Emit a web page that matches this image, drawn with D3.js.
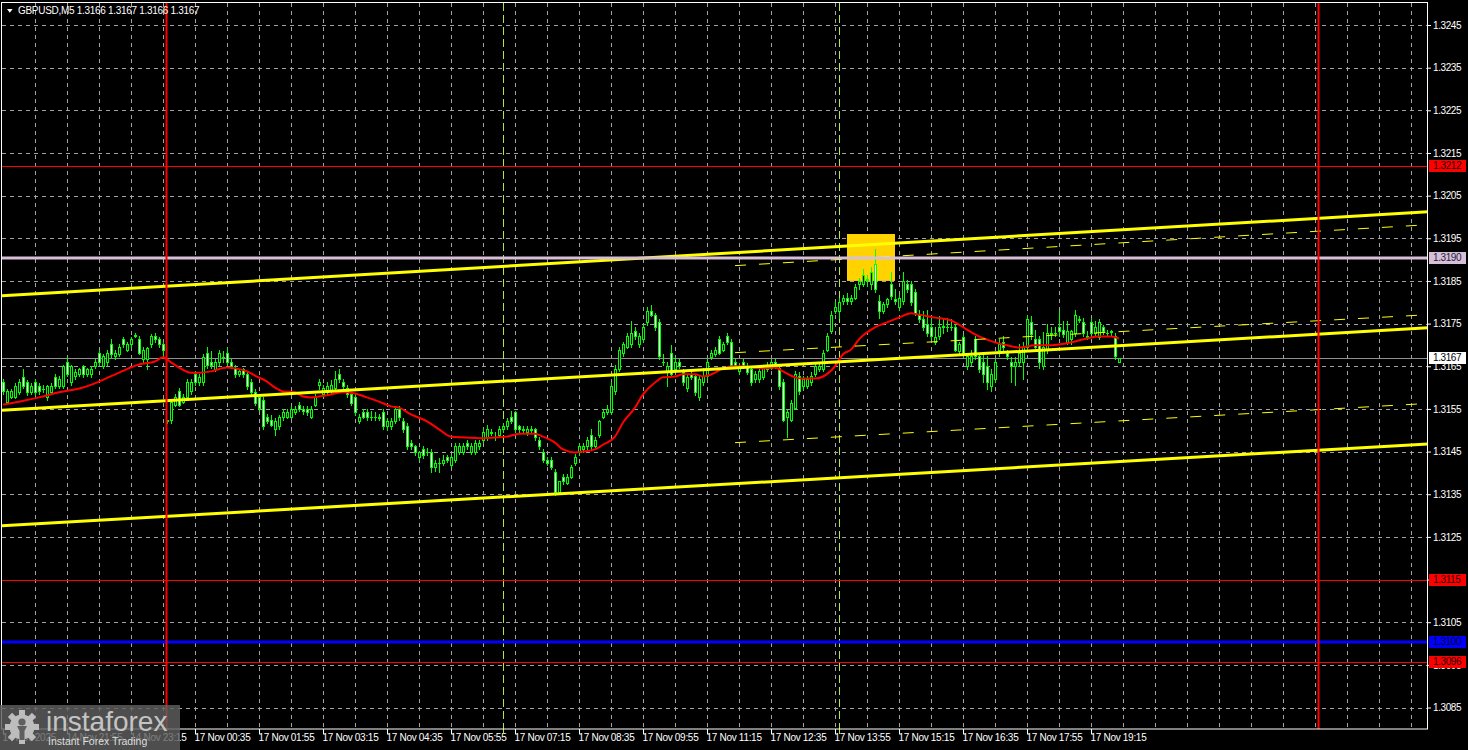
<!DOCTYPE html>
<html><head><meta charset="utf-8">
<script src="https://cdn.jsdelivr.net/npm/d3@7"></script>
<style>
html,body{margin:0;padding:0;background:#000;overflow:hidden}
svg{display:block}
</style></head><body>
<svg id="chart" width="1468" height="750"></svg>
<script>
// ---------------- DATA ----------------
const symbolTitle = "GBPUSD,M5  1.3166 1.3167 1.3166 1.3167";

const opens = [1.31612,1.31567,1.31579,1.31579,1.31589,1.31624,1.31612,1.31589,1.31612,1.31603,
1.31596,1.31579,1.31589,1.31624,1.31603,1.31603,1.31661,1.31612,1.31626,1.31631,
1.31650,1.31631,1.31631,1.31650,1.31682,1.31650,1.31659,1.31701,1.31673,1.31678,
1.31713,1.31689,1.31701,1.31722,1.31713,1.31666,1.31666,1.31701,1.31722,1.31713,
1.31701,1.31523,1.31525,1.31560,1.31591,1.31567,1.31579,1.31591,1.31631,1.31612,
1.31612,1.31682,1.31661,1.31643,1.31659,1.31671,1.31682,1.31659,1.31647,1.31631,
1.31643,1.31631,1.31612,1.31589,1.31577,1.31572,1.31530,1.31525,1.31502,1.31509,
1.31530,1.31532,1.31532,1.31542,1.31560,1.31549,1.31549,1.31532,1.31560,1.31607,
1.31584,1.31589,1.31591,1.31600,1.31631,1.31612,1.31600,1.31584,1.31579,1.31521,
1.31542,1.31542,1.31530,1.31532,1.31530,1.31542,1.31509,1.31509,1.31521,1.31549,
1.31521,1.31509,1.31471,1.31462,1.31438,1.31455,1.31450,1.31450,1.31413,1.31424,
1.31424,1.31438,1.31419,1.31431,1.31450,1.31450,1.31471,1.31450,1.31450,1.31462,
1.31478,1.31483,1.31495,1.31485,1.31490,1.31502,1.31509,1.31532,1.31542,1.31509,
1.31502,1.31495,1.31502,1.31502,1.31478,1.31450,1.31431,1.31431,1.31401,1.31356,
1.31391,1.31377,1.31391,1.31424,1.31448,1.31455,1.31462,1.31490,1.31462,1.31490,
1.31532,1.31542,1.31542,1.31591,1.31643,1.31682,1.31696,1.31701,1.31732,1.31701,
1.31713,1.31753,1.31779,1.31771,1.31753,1.31661,1.31638,1.31682,1.31643,1.31659,
1.31636,1.31600,1.31631,1.31626,1.31579,1.31612,1.31626,1.31671,1.31678,1.31713,
1.31689,1.31720,1.31708,1.31661,1.31638,1.31661,1.31650,1.31643,1.31619,1.31619,
1.31624,1.31643,1.31647,1.31661,1.31647,1.31612,1.31532,1.31525,1.31553,1.31626,
1.31603,1.31603,1.31612,1.31631,1.31643,1.31643,1.31689,1.31732,1.31779,1.31779,
1.31802,1.31811,1.31802,1.31811,1.31842,1.31842,1.31854,1.31842,1.31889,1.31802,
1.31779,1.31795,1.31842,1.31807,1.31790,1.31802,1.31842,1.31842,1.31823,1.31771,
1.31760,1.31748,1.31741,1.31708,1.31720,1.31743,1.31741,1.31743,1.31741,1.31685,
1.31718,1.31650,1.31661,1.31713,1.31673,1.31659,1.31650,1.31603,1.31619,1.31689,
1.31706,1.31682,1.31661,1.31650,1.31659,1.31659,1.31694,1.31753,1.31713,1.31713,
1.31650,1.31689,1.31725,1.31729,1.31741,1.31736,1.31708,1.31713,1.31729,1.31760,
1.31753,1.31720,1.31753,1.31729,1.31718,1.31741,1.31729,1.31732,1.31720,1.31660];

const highs = [1.31619,1.31596,1.31596,1.31610,1.31619,1.31643,1.31617,1.31610,1.31621,1.31610,
1.31605,1.31607,1.31610,1.31631,1.31626,1.31654,1.31671,1.31654,1.31643,1.31647,
1.31654,1.31647,1.31650,1.31668,1.31689,1.31678,1.31689,1.31713,1.31689,1.31701,
1.31718,1.31708,1.31718,1.31727,1.31720,1.31694,1.31696,1.31725,1.31727,1.31718,
1.31708,1.31525,1.31572,1.31584,1.31600,1.31584,1.31619,1.31619,1.31638,1.31633,
1.31678,1.31694,1.31685,1.31666,1.31689,1.31685,1.31692,1.31666,1.31652,1.31643,
1.31647,1.31636,1.31619,1.31596,1.31581,1.31577,1.31539,1.31535,1.31529,1.31535,
1.31549,1.31549,1.31556,1.31556,1.31567,1.31556,1.31556,1.31556,1.31586,1.31619,
1.31607,1.31612,1.31617,1.31638,1.31643,1.31619,1.31605,1.31589,1.31584,1.31539,
1.31549,1.31549,1.31544,1.31542,1.31537,1.31549,1.31528,1.31528,1.31556,1.31556,
1.31529,1.31516,1.31478,1.31466,1.31452,1.31464,1.31459,1.31455,1.31431,1.31436,
1.31443,1.31443,1.31443,1.31469,1.31469,1.31469,1.31476,1.31469,1.31478,1.31478,
1.31502,1.31513,1.31502,1.31495,1.31509,1.31516,1.31528,1.31544,1.31546,1.31513,
1.31509,1.31509,1.31509,1.31506,1.31485,1.31455,1.31438,1.31438,1.31408,1.31382,
1.31398,1.31398,1.31419,1.31445,1.31469,1.31471,1.31485,1.31502,1.31485,1.31525,
1.31549,1.31560,1.31612,1.31652,1.31696,1.31708,1.31727,1.31755,1.31741,1.31729,
1.31746,1.31788,1.31793,1.31776,1.31760,1.31678,1.31661,1.31699,1.31671,1.31666,
1.31643,1.31633,1.31640,1.31633,1.31626,1.31645,1.31668,1.31689,1.31696,1.31720,
1.31708,1.31727,1.31713,1.31668,1.31657,1.31666,1.31657,1.31650,1.31638,1.31645,
1.31654,1.31661,1.31668,1.31668,1.31654,1.31619,1.31549,1.31572,1.31638,1.31636,
1.31626,1.31626,1.31636,1.31659,1.31661,1.31689,1.31729,1.31779,1.31802,1.31811,
1.31816,1.31821,1.31818,1.31842,1.31858,1.31877,1.31863,1.31882,1.31924,1.31816,
1.31800,1.31811,1.31872,1.31830,1.31816,1.31872,1.31853,1.31849,1.31830,1.31781,
1.31779,1.31783,1.31764,1.31741,1.31767,1.31764,1.31764,1.31760,1.31748,1.31708,
1.31725,1.31678,1.31689,1.31722,1.31682,1.31678,1.31673,1.31643,1.31666,1.31713,
1.31720,1.31689,1.31671,1.31671,1.31701,1.31706,1.31771,1.31767,1.31736,1.31720,
1.31730,1.31748,1.31741,1.31741,1.31779,1.31755,1.31755,1.31736,1.31783,1.31767,
1.31764,1.31732,1.31764,1.31755,1.31760,1.31746,1.31736,1.31736,1.31727,1.31670];

const lows = [1.31584,1.31563,1.31575,1.31575,1.31584,1.31598,1.31582,1.31584,1.31582,1.31586,
1.31589,1.31572,1.31584,1.31598,1.31598,1.31598,1.31626,1.31607,1.31621,1.31626,
1.31624,1.31626,1.31624,1.31645,1.31654,1.31645,1.31654,1.31671,1.31668,1.31673,
1.31696,1.31685,1.31696,1.31718,1.31678,1.31659,1.31643,1.31696,1.31708,1.31696,
1.31673,1.31518,1.31516,1.31556,1.31556,1.31563,1.31575,1.31586,1.31605,1.31607,
1.31607,1.31647,1.31647,1.31638,1.31654,1.31661,1.31654,1.31645,1.31624,1.31626,
1.31624,1.31596,1.31582,1.31558,1.31544,1.31502,1.31516,1.31509,1.31490,1.31502,
1.31525,1.31528,1.31528,1.31537,1.31544,1.31539,1.31535,1.31528,1.31556,1.31596,
1.31579,1.31584,1.31586,1.31596,1.31614,1.31598,1.31579,1.31560,1.31535,1.31516,
1.31528,1.31523,1.31525,1.31525,1.31523,1.31502,1.31502,1.31502,1.31516,1.31525,
1.31497,1.31455,1.31455,1.31443,1.31431,1.31436,1.31441,1.31401,1.31405,1.31401,
1.31419,1.31426,1.31415,1.31426,1.31445,1.31445,1.31457,1.31445,1.31445,1.31457,
1.31473,1.31478,1.31488,1.31478,1.31485,1.31497,1.31504,1.31516,1.31495,1.31497,
1.31497,1.31490,1.31495,1.31478,1.31455,1.31426,1.31419,1.31408,1.31349,1.31351,
1.31373,1.31373,1.31387,1.31419,1.31443,1.31450,1.31457,1.31457,1.31457,1.31485,
1.31528,1.31537,1.31537,1.31584,1.31638,1.31675,1.31692,1.31696,1.31715,1.31694,
1.31708,1.31746,1.31767,1.31734,1.31668,1.31652,1.31603,1.31626,1.31638,1.31645,
1.31607,1.31591,1.31619,1.31582,1.31572,1.31607,1.31621,1.31666,1.31673,1.31678,
1.31685,1.31703,1.31650,1.31645,1.31633,1.31645,1.31631,1.31605,1.31614,1.31614,
1.31619,1.31638,1.31643,1.31645,1.31596,1.31521,1.31485,1.31521,1.31549,1.31584,
1.31596,1.31598,1.31607,1.31626,1.31638,1.31638,1.31685,1.31727,1.31774,1.31764,
1.31797,1.31795,1.31795,1.31807,1.31830,1.31837,1.31839,1.31830,1.31823,1.31764,
1.31774,1.31790,1.31807,1.31795,1.31783,1.31795,1.31823,1.31793,1.31769,1.31753,
1.31734,1.31722,1.31713,1.31701,1.31713,1.31729,1.31732,1.31736,1.31685,1.31678,
1.31675,1.31643,1.31654,1.31666,1.31636,1.31612,1.31596,1.31591,1.31612,1.31675,
1.31689,1.31666,1.31612,1.31607,1.31650,1.31619,1.31685,1.31713,1.31689,1.31647,
1.31643,1.31682,1.31713,1.31720,1.31722,1.31718,1.31701,1.31703,1.31722,1.31753,
1.31720,1.31713,1.31722,1.31722,1.31713,1.31725,1.31722,1.31722,1.31668,1.31660];

const closes = [1.31591,1.31591,1.31591,1.31603,1.31612,1.31603,1.31589,1.31603,1.31589,1.31591,
1.31597,1.31603,1.31603,1.31603,1.31619,1.31650,1.31631,1.31650,1.31636,1.31643,
1.31631,1.31643,1.31643,1.31661,1.31659,1.31673,1.31682,1.31678,1.31682,1.31694,
1.31701,1.31701,1.31713,1.31723,1.31682,1.31689,1.31692,1.31720,1.31713,1.31701,
1.31689,1.31521,1.31567,1.31579,1.31560,1.31579,1.31612,1.31612,1.31612,1.31624,
1.31671,1.31652,1.31652,1.31661,1.31682,1.31671,1.31659,1.31650,1.31631,1.31638,
1.31631,1.31603,1.31589,1.31565,1.31553,1.31509,1.31521,1.31513,1.31521,1.31532,
1.31542,1.31542,1.31549,1.31549,1.31549,1.31544,1.31542,1.31549,1.31579,1.31612,
1.31600,1.31603,1.31607,1.31619,1.31621,1.31603,1.31584,1.31565,1.31542,1.31532,
1.31532,1.31530,1.31531,1.31530,1.31529,1.31509,1.31521,1.31521,1.31549,1.31532,
1.31502,1.31462,1.31462,1.31450,1.31450,1.31443,1.31448,1.31413,1.31424,1.31423,
1.31431,1.31431,1.31438,1.31462,1.31462,1.31462,1.31462,1.31462,1.31471,1.31471,
1.31495,1.31502,1.31494,1.31484,1.31502,1.31509,1.31521,1.31521,1.31502,1.31502,
1.31501,1.31502,1.31501,1.31485,1.31462,1.31431,1.31424,1.31413,1.31356,1.31380,
1.31380,1.31391,1.31413,1.31438,1.31462,1.31462,1.31478,1.31462,1.31478,1.31521,
1.31542,1.31549,1.31603,1.31643,1.31689,1.31701,1.31720,1.31729,1.31720,1.31720,
1.31741,1.31779,1.31771,1.31741,1.31673,1.31660,1.31650,1.31631,1.31661,1.31650,
1.31612,1.31624,1.31624,1.31589,1.31619,1.31626,1.31661,1.31682,1.31689,1.31682,
1.31701,1.31708,1.31654,1.31650,1.31650,1.31650,1.31636,1.31612,1.31631,1.31638,
1.31647,1.31654,1.31661,1.31650,1.31603,1.31525,1.31542,1.31565,1.31631,1.31591,
1.31619,1.31619,1.31626,1.31650,1.31650,1.31682,1.31720,1.31771,1.31790,1.31800,
1.31811,1.31802,1.31811,1.31835,1.31849,1.31865,1.31853,1.31872,1.31830,1.31779,
1.31795,1.31807,1.31814,1.31802,1.31811,1.31849,1.31830,1.31800,1.31776,1.31760,
1.31741,1.31729,1.31720,1.31718,1.31741,1.31744,1.31743,1.31742,1.31689,1.31701,
1.31682,1.31673,1.31673,1.31673,1.31643,1.31631,1.31612,1.31631,1.31659,1.31701,
1.31694,1.31673,1.31650,1.31661,1.31682,1.31694,1.31760,1.31725,1.31694,1.31661,
1.31696,1.31729,1.31729,1.31728,1.31732,1.31725,1.31732,1.31732,1.31771,1.31759,
1.31729,1.31719,1.31729,1.31741,1.31753,1.31732,1.31728,1.31731,1.31673,1.31670];

// moving average (read at sampled bars)
const maBars = [0,4,9,14,20,24,29,34,38,40,42,44,47,49,52,56,58,61,63,66,68,70,73,75,77,79,82,85,88,91,94,97,99,102,106,109,112,116,119,123,126,129,133,135,138,140,143,145,148,150,153,155,158,160,163,165,168,170,173,175,178,180,183,185,188,190,193,195,198,200,203,205,208,210,212,214,218,221,224,227,229,233,236,238,241,244,248,251,254,258,261,264,268,271,274,277,279];
const maValues = [1.31560,1.31567,1.31577,1.31589,1.31600,1.31614,1.31635,1.31654,1.31661,1.31671,1.31659,1.31647,1.31635,1.31635,1.31638,1.31647,1.31645,1.31638,1.31628,1.31614,1.31600,1.31591,1.31589,1.31579,1.31577,1.31579,1.31584,1.31589,1.31586,1.31577,1.31567,1.31556,1.31553,1.31537,1.31521,1.31502,1.31485,1.31483,1.31481,1.31483,1.31485,1.31492,1.31492,1.31485,1.31471,1.31455,1.31448,1.31450,1.31455,1.31466,1.31485,1.31518,1.31553,1.31584,1.31612,1.31624,1.31626,1.31631,1.31631,1.31626,1.31635,1.31645,1.31650,1.31650,1.31647,1.31645,1.31647,1.31638,1.31624,1.31621,1.31621,1.31626,1.31650,1.31678,1.31689,1.31713,1.31741,1.31753,1.31764,1.31774,1.31771,1.31764,1.31760,1.31753,1.31736,1.31720,1.31706,1.31699,1.31694,1.31699,1.31699,1.31701,1.31708,1.31715,1.31720,1.31720,1.31715];

// price axis ticks
const priceTicks = [1.3245,1.3235,1.3225,1.3215,1.3205,1.3195,1.3185,1.3175,1.3165,1.3155,1.3145,1.3135,1.3125,1.3115,1.3105,1.3095,1.3085];
// time axis ticks (bar index) and labels
const timeTickBars = [0,16,32,48,64,80,96,112,128,144,160,176,192,208,224,240,256,272];
const timeTickLabels = ["14 Nov 2025","14 Nov 21:55","14 Nov 23:15","17 Nov 00:35","17 Nov 01:55","17 Nov 03:15","17 Nov 04:35","17 Nov 05:55","17 Nov 07:15","17 Nov 08:35","17 Nov 09:55","17 Nov 11:15","17 Nov 12:35","17 Nov 13:55","17 Nov 15:15","17 Nov 16:35","17 Nov 17:55","17 Nov 19:15"];

// horizontal levels
const levelPrices = [1.3212, 1.31904, 1.3167, 1.3115, 1.31004, 1.30957];
// vertical markers (bar index)
const daySeparatorBars = [41, 329];
const sessionBars = [125, 209];
// trend channel (bar index endpoints, prices)
const channelBars = [-0.25, 356.25];
const channelUpper = [1.31815, 1.32012];
const channelMiddle = [1.31547, 1.31740];
const channelLower = [1.31276, 1.31468];
const forkBars = [183, 356.25];
const forkUpper = [1.31887, 1.31983];
const forkMiddle = [1.31683, 1.31772];
const forkLower = [1.31472, 1.31564];
// highlighted zone
const zoneBars = [211, 223];
const zonePrices = [1.3196, 1.3185];

// ---------------- DRAW ----------------
const FONT = '"Liberation Sans", Arial, sans-serif';
const plot = {left: 2, right: 1428, top: 3, bottom: 729};
const svg = d3.select('#chart');
svg.append('rect').attr('width', 1468).attr('height', 750).attr('fill', '#000');

const x = d3.scaleLinear().domain([0, 279]).range([3, 1119]);
const y = d3.scaleLinear().domain([1.3245, 1.3085]).range([25, 707.5]);
const py = p => Math.round(y(p)) + 0.5;

svg.append('clipPath').attr('id', 'clip').append('rect')
  .attr('x', plot.left).attr('y', plot.top)
  .attr('width', plot.right - plot.left).attr('height', plot.bottom - plot.top);

const g = svg.append('g').attr('clip-path', 'url(#clip)');

// grid
g.append('g').selectAll('line').data(priceTicks).join('line')
  .attr('x1', plot.left).attr('x2', plot.right)
  .attr('y1', d => py(d)).attr('y2', d => py(d))
  .attr('stroke', '#a4a4a4').attr('stroke-dasharray', '4,4');
g.append('g').selectAll('line').data(d3.range(8, 357, 8)).join('line')
  .attr('x1', d => x(d) + 0.5).attr('x2', d => x(d) + 0.5)
  .attr('y1', plot.top).attr('y2', plot.bottom)
  .attr('stroke', '#a4a4a4').attr('stroke-dasharray', '4,4');

// zone rectangle
g.append('rect')
  .attr('x', x(zoneBars[0])).attr('width', x(zoneBars[1]) - x(zoneBars[0]))
  .attr('y', y(zonePrices[0])).attr('height', y(zonePrices[1]) - y(zonePrices[0]))
  .attr('fill', '#ffd200');

// bid line (gray) under candles
g.append('line').attr('x1', plot.left).attr('x2', plot.right)
  .attr('y1', py(levelPrices[2])).attr('y2', py(levelPrices[2]))
  .attr('stroke', '#909090').attr('stroke-width', 1);

// session markers
g.append('g').selectAll('line').data(sessionBars).join('line')
  .attr('x1', d => x(d) + 0.5).attr('x2', d => x(d) + 0.5)
  .attr('y1', plot.top).attr('y2', plot.bottom)
  .attr('stroke', '#b4e63c').attr('stroke-dasharray', '8,4');

// candles
const bars = opens.map((o, i) => ({i, o, h: highs[i], l: lows[i], c: closes[i]}));
const cg = g.append('g');
bars.forEach(d => {
  const cx = Math.round(x(d.i));
  cg.append('line').attr('x1', cx + 0.5).attr('x2', cx + 0.5)
    .attr('y1', Math.round(y(d.h))).attr('y2', Math.round(y(d.l)) + 1)
    .attr('stroke', '#00ff00').attr('stroke-width', 1);
  const top = Math.round(y(Math.max(d.o, d.c)));
  const bot = Math.round(y(Math.min(d.o, d.c)));
  if (bot - top < 1) {
    cg.append('line').attr('x1', cx - 1).attr('x2', cx + 2)
      .attr('y1', top + 0.5).attr('y2', top + 0.5).attr('stroke', '#00ff00');
  } else {
    cg.append('rect').attr('x', cx - 0.5).attr('y', top + 0.5)
      .attr('width', 2).attr('height', bot - top)
      .attr('fill', d.c >= d.o ? '#000' : '#fff')
      .attr('stroke', '#00ff00').attr('stroke-width', 1);
  }
});

// moving average
const maPts = maBars.map((b, k) => [b, maValues[k]]);
g.append('path').datum(maPts)
  .attr('d', d3.line().x(d => x(d[0])).y(d => y(d[1])).curve(d3.curveMonotoneX))
  .attr('fill', 'none').attr('stroke', '#ff0000').attr('stroke-width', 2);

// channel lines
[channelUpper, channelMiddle, channelLower].forEach(p => {
  g.append('line').attr('x1', x(channelBars[0])).attr('x2', x(channelBars[1]))
    .attr('y1', y(p[0])).attr('y2', y(p[1]))
    .attr('stroke', '#ffff00').attr('stroke-width', 3);
});
[forkUpper, forkMiddle, forkLower].forEach(p => {
  g.append('line').attr('x1', x(forkBars[0])).attr('x2', x(forkBars[1]))
    .attr('y1', y(p[0]) + 0.5).attr('y2', y(p[1]) + 0.5)
    .attr('stroke', '#ffff00').attr('stroke-width', 1).attr('stroke-dasharray', '11,13');
});

// horizontal levels
const levelStyle = [
  {stroke: '#ff0000', w: 1},
  {stroke: '#d8bfd8', w: 3},
  null,
  {stroke: '#ff0000', w: 1},
  {stroke: '#0000ff', w: 3},
  {stroke: '#ff0000', w: 1}
];
levelPrices.forEach((p, k) => {
  const s = levelStyle[k];
  if (!s) return;
  const yy = s.w === 1 ? py(p) : Math.round(y(p));
  g.append('line').attr('x1', plot.left).attr('x2', plot.right)
    .attr('y1', yy).attr('y2', yy).attr('stroke', s.stroke).attr('stroke-width', s.w);
});

// day separators
g.append('g').selectAll('line').data(daySeparatorBars).join('line')
  .attr('x1', d => x(d) - 0.5).attr('x2', d => x(d) - 0.5)
  .attr('y1', plot.top).attr('y2', plot.bottom)
  .attr('stroke', '#ff0000').attr('stroke-width', 2);

// axes
const yAxis = d3.axisRight(y).tickValues(priceTicks).tickFormat(d3.format('.4f')).tickSize(3).tickPadding(2);
const ya = svg.append('g').attr('transform', `translate(${plot.right},0)`).call(yAxis);
ya.attr('font-family', FONT).attr('font-size', 10);
ya.select('.domain').remove();
ya.selectAll('line').attr('stroke', '#fff');
ya.selectAll('text').attr('fill', '#fff').style('letter-spacing', '-0.4px');

const xAxis = d3.axisBottom(x).tickValues(timeTickBars).tickFormat((d, k) => timeTickLabels[k]).tickSize(5);
const xa = svg.append('g').attr('transform', `translate(0,${plot.bottom})`).call(xAxis);
xa.attr('font-family', FONT).attr('font-size', 10);
xa.select('.domain').remove();
xa.selectAll('line').attr('stroke', '#fff');
xa.selectAll('text').attr('fill', '#fff').attr('text-anchor', 'start')
  .attr('x', -1).attr('y', 5).attr('dy', '0.71em').style('letter-spacing', '-0.3px');

// session markers' ticks on axis
svg.append('g').selectAll('line').data(sessionBars).join('line')
  .attr('x1', d => x(d) + 0.5).attr('x2', d => x(d) + 0.5)
  .attr('y1', plot.bottom).attr('y2', plot.bottom + 5).attr('stroke', '#b4e63c');

// plot border
svg.append('rect').attr('x', 1.5).attr('y', 2.5)
  .attr('width', plot.right - 2).attr('height', plot.bottom - 2.5)
  .attr('fill', 'none').attr('stroke', '#fff');

// level price labels
const labelStyle = [
  {bg: '#ff0000', fg: '#1a0000'},
  {bg: '#d8bfd8', fg: '#202040'},
  {bg: '#ffffff', fg: '#000000'},
  {bg: '#ff0000', fg: '#1a0000'},
  {bg: '#0000ff', fg: '#000022'},
  {bg: '#ff0000', fg: '#1a0000'}
];
levelPrices.forEach((p, k) => {
  const s = labelStyle[k];
  const yy = y(p);
  svg.append('rect').attr('x', 1429).attr('y', Math.round(yy) - 6)
    .attr('width', 37).attr('height', 12).attr('fill', s.bg);
  svg.append('text').attr('x', 1433).attr('y', yy).attr('dy', '0.34em')
    .attr('font-family', FONT).attr('font-size', 10).style('letter-spacing', '-0.4px')
    .attr('fill', s.fg).text(p.toFixed(4));
});

// title
svg.append('path').attr('d', 'M7,9 L12.6,9 L9.8,12.8 Z').attr('fill', '#fff');
svg.append('text').attr('x', 18).attr('y', 14)
  .attr('font-family', FONT).attr('font-size', 10).style('letter-spacing', '-0.3px')
  .attr('fill', '#fff').text(symbolTitle);

// logo watermark
const logo = svg.append('g');
logo.append('rect').attr('x', 0).attr('y', 705).attr('width', 180).attr('height', 45)
  .attr('fill', 'rgb(95,95,95)').attr('fill-opacity', 0.82);
const gc = {x: 22, y: 727};
const gear = logo.append('g').attr('fill', '#bdbdbd');
d3.range(8).forEach(k => {
  gear.append('rect').attr('x', gc.x - 3).attr('y', gc.y - 17).attr('width', 6).attr('height', 7)
    .attr('transform', `rotate(${k * 45},${gc.x},${gc.y})`);
});
gear.append('circle').attr('cx', gc.x).attr('cy', gc.y).attr('r', 12.5);
logo.append('circle').attr('cx', gc.x).attr('cy', gc.y - 5).attr('r', 3.6).attr('fill', '#5f5f5f');
logo.append('path').attr('d', `M${gc.x - 5},${gc.y - 1} L${gc.x + 5},${gc.y - 1} L${gc.x + 2.5},${gc.y + 4} L${gc.x + 2.5},${gc.y + 13} L${gc.x - 2.5},${gc.y + 13} L${gc.x - 2.5},${gc.y + 4} Z`)
  .attr('fill', '#5f5f5f');
logo.append('text').attr('x', 46).attr('y', 731)
  .attr('font-family', FONT).attr('font-size', 28).attr('fill', '#c4c4c4').text('instaforex');
logo.append('text').attr('x', 48).attr('y', 745)
  .attr('font-family', FONT).attr('font-size', 10.5).attr('fill', '#dedede').text('Instant Forex Trading');
</script>
</body></html>
